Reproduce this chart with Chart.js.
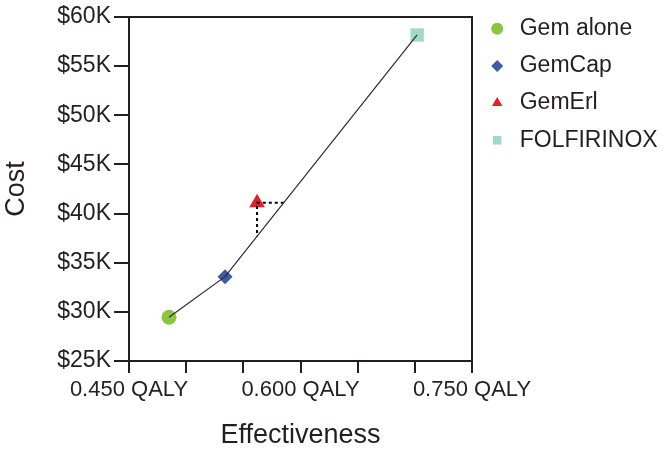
<!DOCTYPE html>
<html><head><meta charset="utf-8">
<script src="https://cdn.jsdelivr.net/npm/chart.js@4"></script>
<style>html,body{margin:0;padding:0;background:#fff;}#wrap{width:666px;height:449px;}</style>
</head><body><div id="wrap"><canvas id="c" width="666" height="449"></canvas></div>
<script>
// ---- data ----
const treatments = ['Gem alone', 'GemCap', 'GemErl', 'FOLFIRINOX'];
const effectiveness = [0.485, 0.534, 0.562, 0.702];
const cost = [29450, 33580, 41100, 58170];
const frontierIdx = [0, 1, 3];
const dominatedIdx = 2;
const xTickValues = [0.45, 0.60, 0.75];
const xTickLabels = ['0.450 QALY', '0.600 QALY', '0.750 QALY'];
const yTickValues = [25000, 30000, 35000, 40000, 45000, 50000, 55000, 60000];
const yTickLabels = ['$25K', '$30K', '$35K', '$40K', '$45K', '$50K', '$55K', '$60K'];

// ---- styles ----
const ink = '#231f20';
const colors = ['#8cc63f', '#3c5aa6', '#e61e28', '#a3d8cc'];
const shapes = ['circle', 'rectRot', 'triangle', 'rect'];
const radii = [7.5, 7.5, 9, 9.5];

Chart.defaults.font.family = "'Liberation Sans', Arial, Helvetica, sans-serif";
Chart.defaults.color = ink;

const pointSets = treatments.map((t, i) => ({
  label: t,
  data: [{x: effectiveness[i], y: cost[i]}],
  pointStyle: shapes[i],
  backgroundColor: colors[i],
  borderColor: colors[i],
  borderWidth: 0,
  pointRadius: radii[i],
  pointHoverRadius: radii[i],
  showLine: false,
  order: 2,
  clip: false
}));

const frontier = frontierIdx.map(i => ({x: effectiveness[i], y: cost[i]}));

// extended-dominance guides: from the dominated point to the frontier segment
function segFor(xv) {
  for (let k = 0; k < frontier.length - 1; k++) {
    if (xv >= frontier[k].x && xv <= frontier[k + 1].x) return [frontier[k], frontier[k + 1]];
  }
  return [frontier[frontier.length - 2], frontier[frontier.length - 1]];
}
const dx = effectiveness[dominatedIdx], dy = cost[dominatedIdx];
const [v0, v1] = segFor(dx);
const yOnFrontier = v0.y + (dx - v0.x) * (v1.y - v0.y) / (v1.x - v0.x);
let xOnFrontier = dx;
for (let k = 0; k < frontier.length - 1; k++) {
  const a = frontier[k], b = frontier[k + 1];
  if (dy >= a.y && dy <= b.y) { xOnFrontier = a.x + (dy - a.y) * (b.x - a.x) / (b.y - a.y); }
}
const guide = [{x: xOnFrontier, y: dy}, {x: dx, y: dy}, {x: dx, y: yOnFrontier}];

const boxPlugin = {
  id: 'box',
  beforeDatasetsDraw(chart) {
    const {ctx, chartArea: a} = chart;
    ctx.save();
    ctx.strokeStyle = ink;
    ctx.lineWidth = 2;
    ctx.beginPath();
    ctx.moveTo(a.left, a.top);
    ctx.lineTo(a.right, a.top);
    ctx.lineTo(a.right, a.bottom);
    ctx.stroke();
    ctx.restore();
  }
};

new Chart(document.getElementById('c'), {
  type: 'scatter',
  data: {
    datasets: [
      ...pointSets,
      {label: 'frontier', data: frontier, showLine: true, borderColor: '#2a2a2a', borderWidth: 1.2,
       pointRadius: 0, pointHoverRadius: 0, order: 1, clip: false},
      {label: 'guide', data: guide, showLine: true, borderColor: '#000000', borderWidth: 2,
       borderDash: [3, 3], pointRadius: 0, pointHoverRadius: 0, order: 1, clip: false}
    ]
  },
  options: {
    responsive: false,
    animation: false,
    devicePixelRatio: 1,
    layout: {padding: {top: 0, left: 0, right: 0, bottom: 0}},
    plugins: {
      tooltip: {enabled: false},
      legend: {
        position: 'right',
        align: 'start',
        maxWidth: 194,
        title: {display: true, text: '', padding: 0, font: {size: 3, lineHeight: 1}},
        labels: {
          usePointStyle: true,
          boxWidth: 22,
          boxHeight: 8.5,
          padding: 14.2,
          color: ink,
          font: {size: 23},
          filter: (item) => item.datasetIndex < treatments.length
        }
      }
    },
    scales: {
      x: {
        type: 'linear', min: 0.45, max: 0.75,
        ticks: {
          stepSize: 0.05, autoSkip: false, maxRotation: 0, minRotation: 0, padding: 4,
          font: {size: 22}, color: ink,
          callback: (v) => { const k = xTickValues.findIndex(t => Math.abs(t - v) < 1e-6); return k >= 0 ? xTickLabels[k] : ''; }
        },
        grid: {drawOnChartArea: false, drawTicks: true, tickLength: 12, lineWidth: 2, color: ink},
        border: {display: true, width: 2, color: ink},
        title: {display: true, text: 'Effectiveness', color: ink, font: {size: 27, lineHeight: 1}, padding: {top: 0, bottom: 0}},
        afterFit(s) { s.height = 88; s.paddingLeft = 0; s.paddingRight = 0; }
      },
      y: {
        type: 'linear', min: 25000, max: 60000,
        ticks: {
          stepSize: 5000, padding: 3, font: {size: 23}, color: ink,
          callback: (v) => { const k = yTickValues.findIndex(t => Math.abs(t - v) < 1e-6); return k >= 0 ? yTickLabels[k] : ''; }
        },
        grid: {drawOnChartArea: false, drawTicks: true, tickLength: 15, lineWidth: 2, color: ink},
        border: {display: true, width: 2, color: ink},
        title: {display: true, text: 'Cost', color: ink, font: {size: 27, lineHeight: 1}, padding: {top: 3.5, bottom: 0}},
        afterFit(s) { s.width = 129; s.paddingTop = 17; s.paddingBottom = 0; }
      }
    }
  },
  plugins: [boxPlugin]
});
</script>
</body></html>
